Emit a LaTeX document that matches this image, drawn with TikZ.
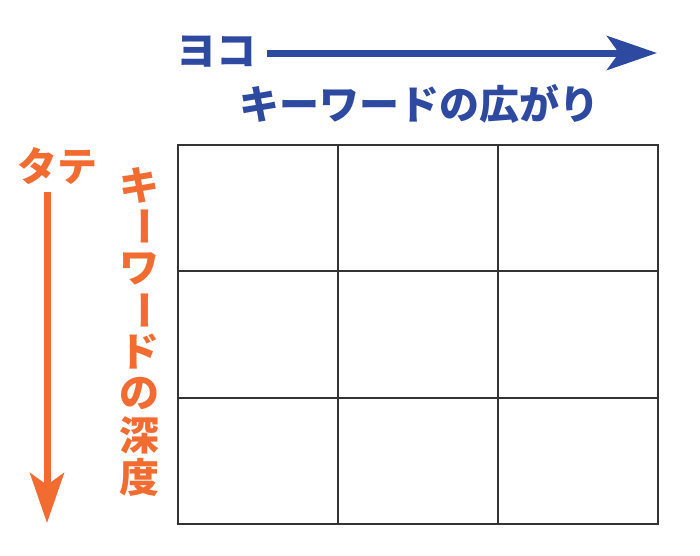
\documentclass[tikz,border=0pt]{standalone}
\usepackage{fontspec}
\newfontfamily\jpfont{Noto Sans CJK JP}[BoldFont={* Black}]
\usetikzlibrary{arrows.meta}
\definecolor{yokoblue}{RGB}{45,74,160}
\definecolor{tateorange}{RGB}{242,108,50}
\begin{document}
\begin{tikzpicture}[x=1pt,y=-1pt,
    every node/.style={font=\jpfont\bfseries\fontsize{40}{40}\selectfont,inner sep=0pt},
    cell/.style={draw=black!80,line width=2pt,rectangle,anchor=north west,
      minimum width=160pt,minimum height=126.33pt,outer sep=0pt},
    bigarrow/.style={line width=7pt,-{Stealth[length=50pt,width=34pt,inset=12pt]}}]

      \useasboundingbox (0,0) rectangle (700,555);

      % grid
      \foreach \r in {0,1,2} {
        \foreach \c in {0,1,2} {
          \node[cell] (cell-\r-\c) at (178+160*\c,145+126.33*\r) {};
        }
      }

      \begin{scope}[every node/.append style={text=yokoblue}]
        \node (yoko)      at (216,52)  {ヨコ};
        \node (yokolabel) at (419,104) {キーワードの広がり};
      \end{scope}

      \coordinate (yokostart) at (267,53);
      \coordinate (yokoend)   at (657,53);
      \draw[bigarrow,yokoblue] (yokostart) -- (yokoend);

      \begin{scope}[every node/.append style={text=tateorange}]
        \node (tate) at (57,166) {タテ};
        \foreach \ch [count=\i from 0] in {キ,|,ワ,|,ド,の,深,度} {
          \if|\ch
            \node[rotate=-90] (depth-\i) at (139,185+41.7*\i) {ー};
          \else
            \node (depth-\i) at (139,185+41.7*\i) {\ch};
          \fi
        }
      \end{scope}

      \coordinate (tatestart) at (47,192);
      \coordinate (tateend)   at (47,523);
      \draw[bigarrow,tateorange] (tatestart) -- (tateend);

    \end{tikzpicture}
\end{document}
